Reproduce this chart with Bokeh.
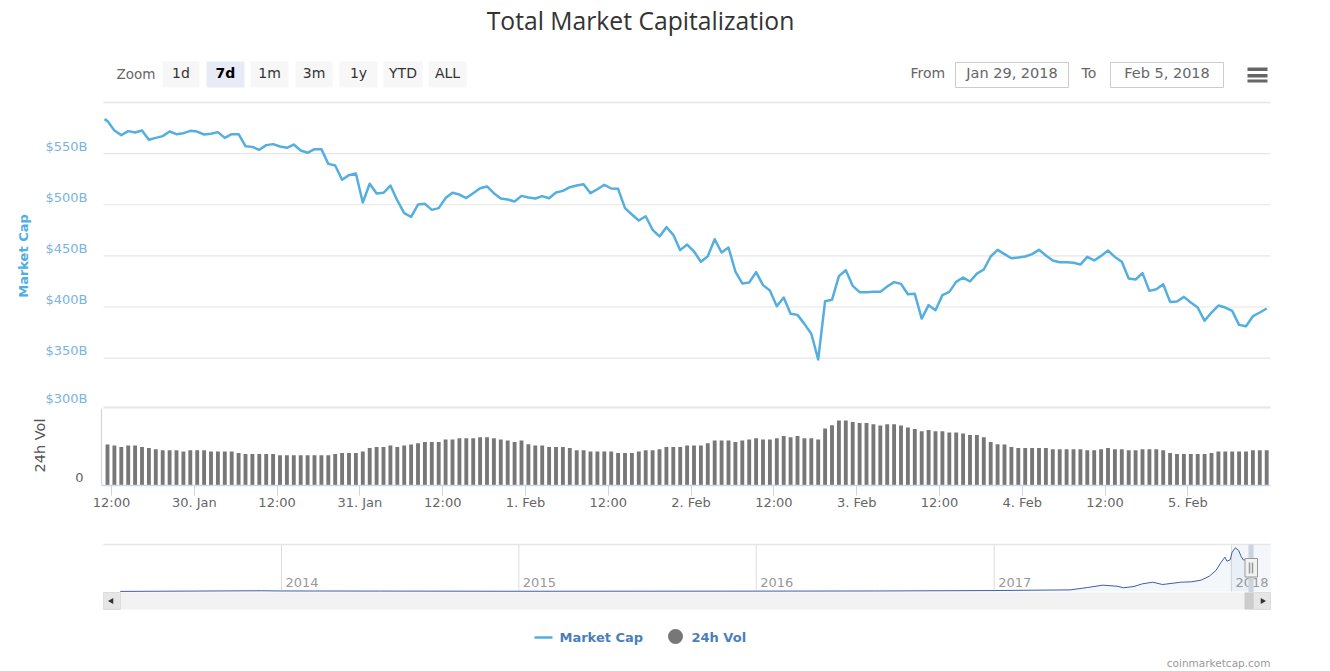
import numpy as np
from bokeh.plotting import figure
from bokeh.layouts import column
from bokeh.models import Range1d, LinearAxis, FixedTicker
from bokeh.core.properties import value
from bokeh.embed import file_html
from bokeh.resources import INLINE

FONT = "DejaVu Sans"
TITLE_FONT = "Open Sans"

# ---------- data ----------
chart_title = "Total Market Capitalization"
range_buttons = ["1d", "7d", "1m", "3m", "1y", "YTD", "ALL"]
from_date = "Jan 29, 2018"
to_date = "Feb 5, 2018"
price_tick_values = [300, 350, 400, 450, 500, 550]
price_tick_labels = ["$300B", "$350B", "$400B", "$450B", "$500B", "$550B"]
date_tick_labels = ["12:00", "30. Jan", "12:00", "31. Jan", "12:00", "1. Feb", "12:00",
                    "2. Feb", "12:00", "3. Feb", "12:00", "4. Feb", "12:00", "5. Feb"]
series_names = ["Market Cap", "24h Vol"]
credit = "coinmarketcap.com"

# market cap in $B; first value is where the line enters the window, the rest are hourly
market_cap = [
    583.7, 581.8, 572.6, 568.1, 572.0, 570.7, 572.6, 563.5, 565.4, 567.1,
    571.6, 569.0, 570.0, 572.3, 571.6, 568.7, 569.4, 571.0, 565.4, 569.0,
    569.0, 557.3, 556.6, 553.7, 558.3, 559.3, 557.0, 555.7, 558.9, 553.1,
    550.8, 554.4, 554.4, 540.0, 538.4, 524.4, 529.0, 530.6, 502.2, 520.5,
    511.0, 511.7, 518.8, 504.2, 491.8, 488.2, 500.2, 500.9, 495.0, 496.7,
    506.5, 511.7, 510.0, 506.5, 511.3, 516.2, 517.9, 511.3, 506.1,
    505.1, 503.2, 508.7, 507.1, 506.1, 508.4, 506.4, 512.0, 513.6, 517.2,
    518.8, 520.1, 511.3, 515.2, 519.5, 515.9, 515.6, 496.7, 490.5, 484.6,
    488.8, 475.5, 469.0, 478.1, 470.6, 455.6, 461.1, 454.3, 444.2, 449.7,
    466.3, 453.3, 458.2, 434.7, 423.0, 424.0, 434.1, 421.4, 416.1, 400.8,
    409.3, 393.3, 392.3, 383.5, 373.8, 348.7, 405.7, 407.0, 430.2, 436.0,
    420.7, 414.5, 414.5, 414.8, 414.8,
    420.0, 424.3, 422.6, 412.5, 412.9, 388.7, 401.8, 396.9, 411.6, 414.8,
    424.6, 428.8, 424.9, 432.7, 436.7, 449.4, 455.9, 451.7, 447.7, 448.4,
    449.4, 451.7, 455.9, 450.4, 445.5, 443.8, 443.8, 443.2, 441.5, 449.0,
    445.5, 450.0, 455.2, 449.0, 444.2, 427.9, 426.9, 433.1, 415.8, 417.4,
    422.3, 405.0, 405.4, 409.9, 404.4, 399.5, 386.5, 394.6, 401.4, 399.5,
    396.2, 382.5, 381.2, 391.0, 394.6, 398.5,
]

# hourly 24h volume in $B, estimated (the axis only labels 0)
volume = [
    32.8, 32.0, 30.9, 32.0, 32.0, 30.9, 30.1, 29.1, 28.3, 28.3,
    28.3, 27.2, 28.3, 28.3, 28.3, 27.2, 27.2, 27.2, 27.2, 26.1,
    25.3, 25.3, 25.3, 25.3, 25.3, 24.3, 24.3, 24.3, 24.3, 24.3,
    24.3, 24.3, 24.3, 25.3, 26.1, 26.1, 26.1, 27.2, 30.1, 30.9,
    30.9, 32.0, 30.9, 32.0, 32.8, 33.9, 34.9, 34.9, 34.9, 36.8,
    36.8, 37.9, 37.9, 37.9, 38.7, 38.7, 37.9, 36.8,
    36.0, 34.9, 36.0, 33.1, 32.0, 32.0, 30.9, 30.9, 30.9, 30.1,
    28.3, 28.3, 27.2, 27.2, 27.2, 27.2, 26.1, 26.1, 26.1, 27.2,
    28.3, 28.3, 29.1, 30.9, 30.9, 30.9, 32.0, 32.0, 32.0, 33.9,
    36.0, 36.0, 36.0, 34.9, 36.0, 36.8, 37.9, 36.8, 36.8, 37.9,
    39.7, 38.7, 39.7, 37.9, 37.9, 36.8, 45.6, 48.3, 52.0, 52.0,
    50.9, 50.1, 50.1, 49.1, 48.0, 49.1, 49.1, 48.0,
    46.4, 45.3, 43.5, 44.5, 43.5, 43.5, 42.4, 42.4, 41.6, 40.5,
    40.5, 38.7, 34.9, 33.1, 32.8, 30.9, 30.1, 30.1, 30.1, 30.1,
    30.1, 29.1, 29.1, 29.1, 29.1, 29.1, 28.3, 28.3, 29.1, 30.1,
    29.1, 29.1, 28.3, 28.3, 29.1, 29.1, 29.1, 28.3, 26.1, 25.3,
    25.3, 25.3, 25.3, 25.3, 26.1, 27.2, 27.2, 27.2, 27.2, 27.2,
    28.3, 28.3, 28.3,
]

# navigator overview, $B
overview_dates = [
    "2013-04-28", "2013-12-01", "2014-01-01", "2014-06-01", "2015-01-01", "2016-01-01",
    "2016-07-01", "2017-01-01", "2017-04-28", "2017-05-25", "2017-06-17", "2017-07-09",
    "2017-07-19", "2017-08-04", "2017-08-17", "2017-09-02", "2017-09-17", "2017-10-15",
    "2017-10-31", "2017-11-15", "2017-11-28", "2017-12-08", "2017-12-16", "2017-12-22",
    "2017-12-25", "2017-12-30", "2018-01-02", "2018-01-07", "2018-01-12", "2018-01-16",
    "2018-01-19", "2018-01-26", "2018-01-29", "2018-02-05",
]
overview_cap = [
    1.5, 14, 10, 8, 4.5, 7, 10, 18, 31, 76, 120, 100, 70, 95, 145, 176, 132, 176,
    183, 214, 290, 397, 554, 649, 573, 598, 743, 825, 775, 660, 598, 598, 580, 400,
]
overview_years = ["2014", "2015", "2016", "2017", "2018"]

# ---------- helpers ----------
H = 3600000
NOON = int(np.datetime64("2018-01-29T12:00", "ms").astype("int64"))
PX_PER_H = 6.9
def t_at(px):
    return NOON + (px - 111) / PX_PER_H * H
def ms(d):
    return int(np.datetime64(d, "ms").astype("int64"))
Y2014 = ms("2014-01-01")
MS_PER_PX = 365.25 * 24 * H / 237.5
def nav_t(px):
    return Y2014 + (px - 281) * MS_PER_PX

W = 1322
L, R = 100, 1272   # every frame in the column shares these edges
first = NOON - int(0.58 * H)
cap_t = [t_at(104)] + [first + i * H for i in range(len(market_cap) - 1)]
vol_t = [first + i * H for i in range(len(volume))]

BASE = dict(width=W, output_backend="svg", toolbar_location=None, x_axis_location=None,
            y_axis_location=None, outline_line_color=None, border_fill_color=None,
            background_fill_color=None, min_border_left=L, min_border_right=W - R,
            min_border_top=0)
F = value(FONT)

# ---------- header ----------
head = figure(height=106, x_range=Range1d(L, R), y_range=Range1d(106, 0), min_border_bottom=0, **BASE)
head.text([640], [22], text=[chart_title], text_font=value(TITLE_FONT), text_font_size="24.7px",
          text_color="#333333", text_align="center", text_baseline="middle", y_offset=-2)
head.text([116], [73], text=["Zoom"], text_font=F, text_font_size="13.5px",
          text_color="#666666", text_baseline="middle")
b_l = [162, 206, 250, 295, 339, 383, 428]
b_r = [199, 244, 288, 332, 377, 422, 466]
head.quad(left=b_l, right=b_r, top=61, bottom=87,
          fill_color=["#f7f7f7", "#e6ebf5", "#f7f7f7", "#f7f7f7", "#f7f7f7", "#f7f7f7", "#f7f7f7"],
          line_color=None)
head.text([(a + b) / 2 for a, b in zip(b_l, b_r)], [72.5] * 7, text=range_buttons, text_font=F,
          text_font_size="14px", text_color=["#333333", "#000000"] + ["#333333"] * 5,
          text_font_style=["normal", "bold"] + ["normal"] * 5,
          text_align="center", text_baseline="middle")
head.text([910, 1081], [72.5, 72.5], text=["From", "To"], text_font=F, text_font_size="14px",
          text_color="#666666", text_baseline="middle")
head.quad(left=[955, 1110], right=[1068, 1223], top=62, bottom=87, fill_color="#ffffff",
          line_color="#cccccc", line_width=1)
head.text([1011.5, 1166.5], [72, 72], text=[from_date, to_date], text_font=F, text_font_size="14.5px",
          text_color="#666666", text_align="center", text_baseline="middle")
head.quad(left=1247, right=1267, top=[67, 73.5, 79], bottom=[70.5, 77, 82], fill_color="#666666", line_color=None)
head.segment(103, 102, 1270, 102, line_color="#e6e6e6", line_width=1.5)

# ---------- price pane (frame y 106..405) ----------
PX_PER_B = 1.0225
def price_at(y):
    return 600 - (y - 102) / PX_PER_B
main = figure(height=299, x_range=Range1d(t_at(L), t_at(R)),
              y_range=Range1d(price_at(405), price_at(106)), min_border_bottom=0, **BASE)
main.extra_y_ranges = {"lab": Range1d(price_at(405) - 7.4, price_at(106) - 7.4)}
ax = LinearAxis(y_range_name="lab", ticker=FixedTicker(ticks=price_tick_values),
                major_label_overrides=dict(zip(price_tick_values, price_tick_labels)),
                axis_line_color=None, major_tick_line_color=None, minor_tick_line_color=None,
                major_label_text_color="#7ab4e0", major_label_text_font=FONT,
                major_label_text_font_size="13px", major_label_standoff=7,
                axis_label=series_names[0], axis_label_text_color="#51aee0",
                axis_label_text_font=FONT, axis_label_text_font_size="13px",
                axis_label_text_font_style="bold", axis_label_standoff=11)
main.add_layout(ax, "left")
grid_vals = price_tick_values[1:]
main.segment(t_at(103), grid_vals, t_at(1270), grid_vals, line_color="#e6e6e6", line_width=1.2)
main.line(cap_t, market_cap, line_color="#54aee0", line_width=2.5, line_join="round")

# ---------- volume pane (frame y 405..485) ----------
def vol_at(y):
    return (485 - y) * 0.8
vol = figure(height=125, x_range=Range1d(t_at(L), t_at(R)),
             y_range=Range1d(0, vol_at(405)), min_border_bottom=45, **BASE)
vol.extra_y_ranges = {"lab": Range1d(-6.2, vol_at(405) - 6.2)}
vy = LinearAxis(y_range_name="lab", ticker=FixedTicker(ticks=[0]), major_label_overrides={0: "0"},
                axis_line_color=None, major_tick_line_color=None, minor_tick_line_color=None,
                major_label_text_color="#666666", major_label_text_font=FONT,
                major_label_text_font_size="13px", major_label_standoff=11,
                axis_label=series_names[1], axis_label_text_color="#555555",
                axis_label_text_font=FONT, axis_label_text_font_size="14.5px",
                axis_label_text_font_style="normal", axis_label_standoff=24)
vol.add_layout(vy, "left")
date_ticks = [NOON + 12 * H * i for i in range(len(date_tick_labels))]
vx = LinearAxis(ticker=FixedTicker(ticks=date_ticks), bounds=(t_at(101), t_at(1270)),
                major_label_overrides=dict(zip(date_ticks, date_tick_labels)),
                axis_line_color="#ccd6eb", axis_line_width=1.5, major_tick_line_color="#ccd6eb",
                major_tick_out=10, major_tick_in=0, minor_tick_line_color=None,
                major_label_text_color="#666666", major_label_text_font=FONT,
                major_label_text_font_size="13px", major_label_standoff=-1)
vol.add_layout(vx, "below")
vol.vbar(x=vol_t, top=volume, bottom=0, width=0.56 * H, fill_color="#777777", line_color=None)
vol.segment(t_at(103), vol_at(407), t_at(1270), vol_at(407), line_color="#e6e6e6", line_width=2)
vol.segment(t_at(101), 0, t_at(101), vol_at(408), line_color="#ccd6eb", line_width=1.2)

# ---------- navigator + scrollbar (y 530..618) ----------
NAV_B_PER_PX = 18.9
nav = figure(height=88, x_range=Range1d(nav_t(L), nav_t(R)),
             y_range=Range1d(-(618 - 591) * NAV_B_PER_PX, (591 - 530) * NAV_B_PER_PX),
             min_border_bottom=0, **BASE)
nav.extra_x_ranges = {"px": Range1d(L, R)}
nav.extra_y_ranges = {"px": Range1d(618, 530)}
PX = dict(x_range_name="px", y_range_name="px")
year_t = [ms(y + "-01-01") for y in overview_years]
nav_x = [ms(d) for d in overview_dates]
nav.quad(left=1230, right=1270, top=544, bottom=591, fill_color="#f3f7fc", line_color=None, **PX)
nav.segment(x0=year_t, y0=544, x1=year_t, y1=591, line_color="#dddddd", line_width=1, y_range_name="px")
nav.text(x=year_t, y=582, text=overview_years, x_offset=4, text_font=F, text_font_size="13px",
         text_color="#999999", text_baseline="middle", y_range_name="px")
nav.segment(103, 544, 1270, 544, line_color="#e6e6e6", line_width=1.5, **PX)
nav.varea(x=nav_x, y1=0, y2=overview_cap, fill_color="#4572a7", fill_alpha=0.06)
nav.line(nav_x, overview_cap, line_color="#3c5fa8", line_width=1)
nav.quad(left=1248, right=1253, top=544, bottom=592, fill_color="#ccd3df", line_color=None, **PX)
nav.quad(left=103, right=1270, top=592, bottom=609, fill_color="#f2f2f2", line_color=None, **PX)
nav.quad(left=[103, 1253], right=[120, 1270], top=592, bottom=609, fill_color="#e6e6e6", line_color="#dddddd", **PX)
nav.quad(left=1244, right=1253, top=592, bottom=609, fill_color="#cccccc", line_color=None, **PX)
nav.scatter(x=[111], y=[600.5], marker="triangle", size=6, angle=np.pi / 2, fill_color="#333333", line_color=None, **PX)
nav.scatter(x=[1262], y=[600.5], marker="triangle", size=6, angle=-np.pi / 2, fill_color="#333333", line_color=None, **PX)
nav.quad(left=1244.5, right=1257, top=558, bottom=576.5, fill_color="#f2f2f2", line_color="#999999", **PX)
nav.segment([1249, 1252], 562, [1249, 1252], 573, line_color="#999999", line_width=1.5, **PX)

# ---------- legend + credit (y 618..671) ----------
foot = figure(height=53, x_range=Range1d(L, R), y_range=Range1d(671, 618), min_border_bottom=0, **BASE)
foot.segment(534, 637, 552, 637, line_color="#54aee0", line_width=2.5)
foot.scatter([675], [636], size=15, fill_color="#777777", line_color=None)
foot.text([559, 691], [637, 637], text=series_names, text_font=F, text_font_size="13px",
          text_font_style="bold", text_color="#4a7fbb", text_baseline="middle")
foot.text([1270], [662], text=[credit], text_font=F, text_font_size="10.5px",
          text_color="#999999", text_align="right", text_baseline="middle")

for f in (head, main, vol, nav, foot):
    f.xgrid.visible = False
    f.ygrid.visible = False

root = column(head, main, vol, nav, foot, spacing=0)
open("out.html", "w").write(file_html(root, INLINE))
